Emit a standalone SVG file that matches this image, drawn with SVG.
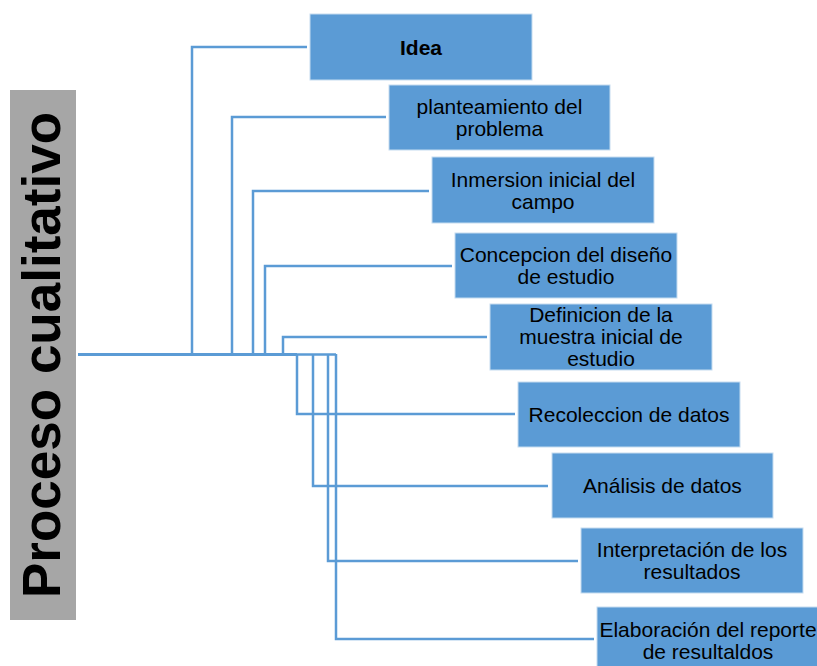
<svg xmlns="http://www.w3.org/2000/svg" width="817" height="666" viewBox="0 0 817 666">
<style>
.box{fill:#5B9BD5;stroke:#C5DCF0;stroke-width:1}
.lbl{font-family:"Liberation Sans",Arial,sans-serif;font-size:21px;fill:#000;text-anchor:middle}
.b{font-weight:bold}
.ln{fill:none;stroke:#5B9BD5;stroke-width:2.5}
</style>
<rect width="817" height="666" fill="#fff"/>
<g id="title">
<rect x="10" y="90" width="66" height="530" fill="#A6A6A6"/>
<text transform="translate(60,355) rotate(-90)" font-family="Liberation Sans,Arial,sans-serif" font-weight="bold" font-size="53" text-anchor="middle" fill="#000">Proceso cualitativo</text>
</g>
<g id="connectors">
<path class="ln" d="M78,354.5 H297" stroke-width="3" style="stroke-width:3"/>
<path class="ln" d="M297,354.5 H336"/>
<path class="ln" d="M192,354 V47 H307"/>
<path class="ln" d="M232,354 V117 H386"/>
<path class="ln" d="M253,354 V191 H429"/>
<path class="ln" d="M265,354 V266 H452"/>
<path class="ln" d="M283,354 V337 H487"/>
<path class="ln" d="M297,354 V414 H515"/>
<path class="ln" d="M313,354 V486 H548"/>
<path class="ln" d="M328,354 V561 H578"/>
<path class="ln" d="M336,354 V639 H594"/>
</g>
<g id="n1"><rect class="box" x="310" y="14" width="222" height="66"/><text class="lbl b" x="421" y="54.5">Idea</text></g>
<g id="n2"><rect class="box" x="389" y="85" width="221" height="65"/><text class="lbl" x="499.5" y="113.5">planteamiento del</text><text class="lbl" x="499.5" y="135.5">problema</text></g>
<g id="n3"><rect class="box" x="432" y="157" width="222" height="66"/><text class="lbl" x="543" y="186.5">Inmersion inicial del</text><text class="lbl" x="543" y="208.5">campo</text></g>
<g id="n4"><rect class="box" x="455" y="233" width="222" height="65"/><text class="lbl" x="566" y="262">Concepcion del diseño</text><text class="lbl" x="566" y="284">de estudio</text></g>
<g id="n5"><rect class="box" x="490" y="304" width="222" height="66"/><text class="lbl" x="601" y="321.5">Definicion de la</text><text class="lbl" x="601" y="343.5">muestra inicial de</text><text class="lbl" x="601" y="365.5">estudio</text></g>
<g id="n6"><rect class="box" x="518" y="382" width="222" height="65"/><text class="lbl" x="629" y="421.5">Recoleccion de datos</text></g>
<g id="n7"><rect class="box" x="552" y="453" width="221" height="65"/><text class="lbl" x="662.5" y="493">Análisis de datos</text></g>
<g id="n8"><rect class="box" x="581" y="528" width="222" height="65"/><text class="lbl" x="692" y="557">Interpretación de los</text><text class="lbl" x="692" y="579">resultados</text></g>
<g id="n9"><rect class="box" x="597" y="607" width="222" height="66"/><text class="lbl" x="708" y="637">Elaboración del reporte</text><text class="lbl" x="708" y="659">de resultaldos</text></g>
</svg>
